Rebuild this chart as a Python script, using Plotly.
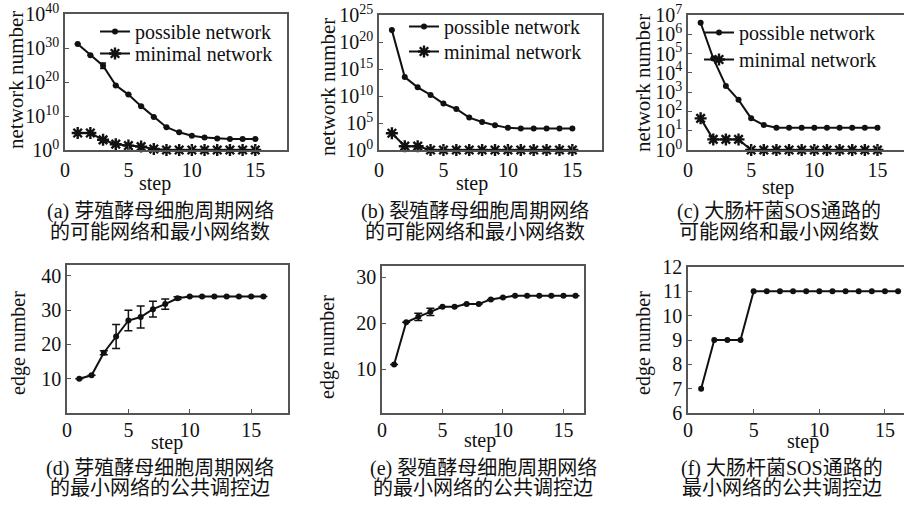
import plotly.graph_objects as go

# ---------------- data ----------------
steps15 = list(range(1, 16))
steps16 = list(range(1, 17))

# (a) budding yeast: log10 of network number
a_possible_exp = [31.2, 27.9, 24.8, 19.0, 16.3, 12.9, 9.7, 6.7, 5.2, 4.2, 3.7, 3.4, 3.2, 3.2, 3.2]
a_possible_err = [0, 0, 0.8, 0, 0, 0, 0, 0, 0, 0, 0, 0, 0, 0, 0]
a_minimal_exp = [5.0, 5.0, 3.0, 1.7, 1.3, 1.0, 0.3, 0, 0, 0, 0, 0, 0, 0, 0]
a_minimal_err = [0, 0, 0.6, 0, 0, 0, 0, 0, 0, 0, 0, 0, 0, 0, 0]

# (b) fission yeast
b_possible_exp = [22.2, 13.5, 11.6, 10.2, 8.6, 7.6, 6.0, 5.2, 4.6, 4.1, 4.0, 4.0, 4.0, 4.0, 4.0]
b_minimal_exp = [3.1, 0.7, 0.7, 0, 0, 0, 0, 0, 0, 0, 0, 0, 0, 0, 0]

# (c) E. coli SOS
c_possible_exp = [6.6, 4.75, 3.32, 2.6, 1.64, 1.3, 1.16, 1.16, 1.16, 1.16, 1.16, 1.16, 1.16, 1.16, 1.16]
c_minimal_exp = [1.64, 0.55, 0.55, 0.55, 0, 0, 0, 0, 0, 0, 0, 0, 0, 0, 0]

# (d) edge number, budding yeast
d_edges = [10, 11, 17.6, 22.3, 27, 28, 30.3, 31.8, 33.5, 34, 34, 34, 34, 34, 34, 34]
d_err = [0, 0, 0.6, 3.5, 3.0, 3.2, 2.3, 1.5, 0.4, 0, 0, 0, 0, 0, 0, 0]

# (e) edge number, fission yeast
e_edges = [11, 20.2, 21.4, 22.5, 23.6, 23.6, 24.2, 24.2, 25.2, 25.6, 26, 26, 26, 26, 26, 26]
e_err = [0, 0, 0.8, 0.8, 0, 0, 0, 0, 0, 0, 0, 0, 0, 0, 0, 0]

# (f) edge number, E. coli SOS
f_edges = [7, 9, 9, 9, 11, 11, 11, 11, 11, 11, 11, 11, 11, 11, 11, 11]

legend_names = ["possible network", "minimal network"]
captions = [
    ["(a) 芽殖酵母细胞周期网络", "的可能网络和最小网络数"],
    ["(b) 裂殖酵母细胞周期网络", "的可能网络和最小网络数"],
    ["(c) 大肠杆菌SOS通路的", "可能网络和最小网络数"],
    ["(d) 芽殖酵母细胞周期网络", "的最小网络的公共调控边"],
    ["(e) 裂殖酵母细胞周期网络", "的最小网络的公共调控边"],
    ["(f) 大肠杆菌SOS通路的", "最小网络的公共调控边"],
]

# ---------------- styling ----------------
W, H = 904, 505
SERIF = "Liberation Serif, Times New Roman, serif"
CAPF = "Liberation Serif, Noto Sans CJK SC, sans-serif"
AX = "#555555"
BLK = "#111111"
FS = 20


def px_x(p):
    return p / W


def px_y(p):
    return 1 - p / H


fig = go.Figure()


def logvals(exps):
    return [10.0 ** e for e in exps]


def log_err(exps, errs):
    up = [10.0 ** (e + d) - 10.0 ** e for e, d in zip(exps, errs)]
    dn = [10.0 ** e - 10.0 ** (e - d) for e, d in zip(exps, errs)]
    return up, dn


def add_log_panel(idx, possible, minimal, perr, merr, leg_p, leg_m):
    xa = "x" if idx == 1 else f"x{idx}"
    ya = "y" if idx == 1 else f"y{idx}"
    tr = dict(x=steps15, y=logvals(possible), mode="lines+markers", name=legend_names[0],
              line=dict(color=BLK, width=2), marker=dict(symbol="circle", size=6, color=BLK),
              xaxis=xa, yaxis=ya, cliponaxis=False, legend=leg_p)
    if perr:
        up, dn = log_err(possible, perr)
        tr["error_y"] = dict(type="data", array=up, arrayminus=dn, color=BLK, thickness=1.5, width=3)
    fig.add_trace(go.Scatter(**tr))
    tr = dict(x=steps15, y=logvals(minimal), mode="lines+markers", name=legend_names[1],
              line=dict(color=BLK, width=2),
              marker=dict(symbol="asterisk-open", size=10, color=BLK, line=dict(color=BLK, width=2.4)),
              xaxis=xa, yaxis=ya, cliponaxis=False, legend=leg_m)
    if merr:
        up, dn = log_err(minimal, merr)
        tr["error_y"] = dict(type="data", array=up, arrayminus=dn, color=BLK, thickness=1.5, width=3)
    fig.add_trace(go.Scatter(**tr))


def add_edge_panel(idx, x, y, err=None):
    xa = f"x{idx}"
    ya = f"y{idx}"
    tr = dict(x=x, y=y, mode="lines+markers", line=dict(color=BLK, width=2),
              marker=dict(symbol="circle", size=6, color=BLK), xaxis=xa, yaxis=ya,
              cliponaxis=False, showlegend=False)
    if err:
        tr["error_y"] = dict(type="data", array=err, color=BLK, thickness=1.5, width=4)
    fig.add_trace(go.Scatter(**tr))


add_log_panel(1, a_possible_exp, a_minimal_exp, a_possible_err, a_minimal_err, "legend", "legend4")
add_log_panel(2, b_possible_exp, b_minimal_exp, None, None, "legend2", "legend5")
add_log_panel(3, c_possible_exp, c_minimal_exp, None, None, "legend3", "legend6")
add_edge_panel(4, steps16, d_edges, d_err)
add_edge_panel(5, steps16, e_edges, e_err)
add_edge_panel(6, steps16, f_edges)

# panel pixel boxes: left, right, top, bottom
boxes = {
    1: (65, 287, 14, 150),
    2: (379, 602, 15, 150),
    3: (688, 904, 15, 150),
    4: (67, 288, 265, 413),
    5: (382, 584, 266, 413),
    6: (688, 904, 267, 413),
}
xranges = {1: [0, 17.5], 2: [0, 17.3], 3: [0, 17.1], 4: [0, 18], 5: [0, 16.7], 6: [0, 16.45]}

tickfont = dict(family=SERIF, size=FS, color=BLK)


def sup_labels(exps):
    return [f"10<sup>{e}</sup>" for e in exps]


yaxes = {
    1: dict(type="log", range=[0, 40], tickvals=[10.0 ** e for e in [0, 10, 20, 30, 40]],
            ticktext=sup_labels([0, 10, 20, 30, 40])),
    2: dict(type="log", range=[0, 25], tickvals=[10.0 ** e for e in [0, 5, 10, 15, 20, 25]],
            ticktext=sup_labels([0, 5, 10, 15, 20, 25])),
    3: dict(type="log", range=[0, 7], tickvals=[10.0 ** e for e in range(8)],
            ticktext=sup_labels(list(range(8)))),
    4: dict(range=[0, 43.2], tickvals=[10, 20, 30, 40]),
    5: dict(range=[0.4, 32.5], tickvals=[10, 20, 30]),
    6: dict(range=[6, 12], tickvals=[6, 7, 8, 9, 10, 11, 12]),
}

layout = dict(
    width=W, height=H, margin=dict(l=0, r=0, t=0, b=0, autoexpand=False),
    paper_bgcolor="white", plot_bgcolor="white",
    font=dict(family=SERIF, color=BLK),
)

for i in range(1, 7):
    l, r, t, b = boxes[i]
    xn = "xaxis" if i == 1 else f"xaxis{i}"
    yn = "yaxis" if i == 1 else f"yaxis{i}"
    anc_y = "y" if i == 1 else f"y{i}"
    anc_x = "x" if i == 1 else f"x{i}"
    full_box = i not in (3, 6)
    layout[xn] = dict(domain=[px_x(l), min(px_x(r), 1.0)], anchor=anc_y, range=xranges[i],
                      tickvals=[0, 5, 10, 15], showline=True, linecolor=AX, linewidth=1.6,
                      mirror=True, ticks="inside", ticklen=4, tickcolor=AX, showgrid=False,
                      zeroline=False, tickfont=tickfont, automargin=False,
                      ticklabelstandoff=1 if i <= 3 else -2)
    yd = dict(domain=[px_y(b), px_y(t)], anchor=anc_x, showline=True, linecolor=AX,
              linewidth=1.6, mirror=full_box, ticks="inside", ticklen=4, tickcolor=AX,
              showgrid=False, zeroline=False, tickfont=tickfont, automargin=False)
    yd.update(yaxes[i])
    layout[yn] = yd

legend_common = dict(font=dict(family=SERIF, size=FS, color=BLK), bgcolor="rgba(0,0,0,0)",
                     xanchor="left", yanchor="top", itemwidth=30, tracegroupgap=0)
# legend text start x, row centre y (pixels)
legend_pos = {
    "legend": (139, 32), "legend4": (139, 54),
    "legend2": (448, 27), "legend5": (448, 52),
    "legend3": (743, 33), "legend6": (743, 60),
}
for name, (tx, cy) in legend_pos.items():
    layout[name] = dict(x=px_x(tx - 44), y=px_y(cy - 20), **legend_common)

annotations = []
# y-axis titles
ytitles = [
    ("network number", 16, 80, 21), ("network number", 328, 87, 21), ("network number", 643, 83, 21),
    ("edge number", 18, 343, 20), ("edge number", 327, 347, 20), ("edge number", 643, 343, 20),
]
for txt, x, y, fs in ytitles:
    annotations.append(dict(text=txt, x=px_x(x), y=px_y(y), xref="paper", yref="paper",
                            showarrow=False, textangle=-90, xanchor="center", yanchor="middle",
                            font=dict(family=SERIF, size=fs, color=BLK)))
# x-axis titles
xtitles = [(155, 183), (472, 183), (778, 187), (167, 442), (480, 440), (803, 441)]
for x, y in xtitles:
    annotations.append(dict(text="step", x=px_x(x), y=px_y(y), xref="paper", yref="paper",
                            showarrow=False, xanchor="center", yanchor="middle",
                            font=dict(family=SERIF, size=FS, color=BLK)))
# captions
cap_pos = [(160, 212, 232), (475, 212, 232), (779, 212, 232),
           (160, 468, 488), (483, 468, 488), (782, 468, 488)]
for (l1, l2), (x, y1, y2) in zip(captions, cap_pos):
    for txt, y in ((l1, y1), (l2, y2)):
        annotations.append(dict(text=txt, x=px_x(x), y=px_y(y), xref="paper", yref="paper",
                                showarrow=False, xanchor="center", yanchor="middle",
                                font=dict(family=CAPF, size=FS, color=BLK)))
layout["annotations"] = annotations

fig.update_layout(**layout)
fig.write_html("out.html")
